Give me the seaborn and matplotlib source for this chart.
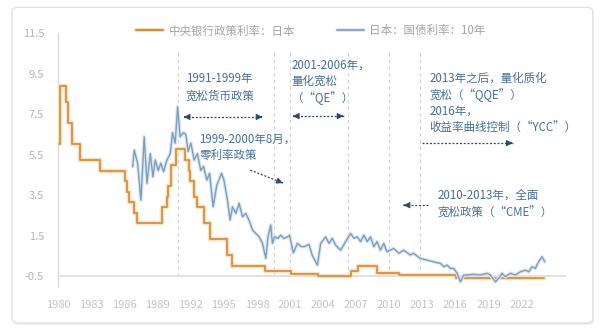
import numpy as np
import pandas as pd
import matplotlib
matplotlib.use("Agg")
import matplotlib.pyplot as plt
import matplotlib.patheffects as pe
from matplotlib.patches import FancyBboxPatch
from matplotlib.lines import Line2D
import seaborn as sns

# ---------------- data ----------------
policy_dates = [1980.0, 1980.15, 1980.65, 1980.9, 1981.25, 1981.95, 1983.8,
                1986.05, 1986.25, 1986.35, 1986.85, 1987.15,
                1989.4, 1989.8, 1989.95, 1990.2, 1990.65,
                1991.5, 1991.85, 1991.95, 1992.3, 1992.55, 1993.15, 1993.7,
                1995.3, 1995.7, 1998.75, 2001.1, 2003.5,
                2006.55, 2007.15, 2008.85, 2010.85, 2016.1, 2024.0]
policy_rates = [6.25, 9.0, 8.25, 7.25, 6.25, 5.5, 5.0,
                4.5, 4.0, 3.5, 3.0, 2.5,
                3.25, 3.75, 4.25, 5.25, 6.0,
                5.5, 5.0, 4.5, 3.75, 3.25, 2.5, 1.75,
                1.0, 0.5, 0.25, 0.12, 0.02,
                0.25, 0.5, 0.15, 0.05, -0.1, -0.1]

jgb_dates = [1986.72, 1986.87, 1987.17, 1987.47, 1987.77, 1988.02, 1988.32, 1988.56,
             1988.77, 1989.04, 1989.28, 1989.53, 1989.83, 1990.13, 1990.34, 1990.58,
             1990.80, 1991.03, 1991.34, 1991.55, 1991.75, 1992.0, 1992.3, 1992.6,
             1992.9, 1993.15, 1993.45, 1993.7, 1994.02, 1994.35, 1994.78, 1995.0,
             1995.32, 1995.56, 1995.78, 1996.08, 1996.38, 1996.68, 1996.98, 1997.28,
             1997.6, 1997.9, 1998.19, 1998.5, 1998.8, 1999.0, 1999.25, 1999.4,
             1999.6, 1999.9, 2000.15, 2000.45, 2000.76, 2000.95, 2001.3, 2001.67,
             2002.0, 2002.27, 2002.72, 2003.0, 2003.48, 2003.78, 2004.23, 2004.53,
             2004.83, 2005.13, 2005.59, 2006.04, 2006.49, 2006.8, 2007.1, 2007.4,
             2007.7, 2008.0, 2008.3, 2008.6, 2008.9, 2009.2, 2009.5, 2009.8,
             2010.4, 2010.87, 2011.3, 2011.9, 2012.2, 2012.8, 2013.4, 2014.0,
             2014.65, 2014.95, 2015.25, 2015.55, 2015.85, 2016.16, 2016.46, 2016.76,
             2017.06, 2017.66, 2018.27, 2018.88, 2019.18, 2019.63, 2019.93, 2020.23,
             2020.53, 2020.99, 2021.44, 2021.89, 2022.35, 2022.65, 2022.95, 2023.25,
             2023.55, 2023.86, 2024.1]
jgb_yields = [5.18, 5.97, 5.35, 3.6, 6.6, 4.4, 5.8, 4.7,
              5.5, 5.0, 5.35, 4.95, 5.5, 5.8, 6.8, 6.3,
              8.02, 6.6, 6.8, 6.7, 5.9, 6.3, 5.5, 5.8,
              5.0, 5.2, 4.55, 4.87, 3.28, 4.3, 4.87, 4.55,
              3.6, 2.65, 3.28, 2.97, 3.45, 2.81, 2.97, 2.65,
              2.18, 2.02, 1.86, 1.55, 0.84, 1.86, 2.42, 1.55,
              1.86, 1.78, 1.94, 1.78, 1.86, 1.94, 1.1, 1.55,
              1.4, 1.39, 1.5, 1.0, 0.52, 1.55, 1.86, 1.55,
              1.79, 1.47, 1.23, 1.63, 2.02, 1.79, 1.86, 1.63,
              1.94, 1.63, 1.86, 1.39, 1.63, 1.23, 1.55, 1.15,
              1.31, 1.08, 1.23, 1.0, 1.08, 0.84, 0.76, 0.68,
              0.6, 0.44, 0.52, 0.36, 0.36, 0.13, -0.27, 0.05,
              0.05, 0.08, 0.05, 0.13, 0.05, -0.27, -0.11, 0.13,
              -0.03, 0.13, 0.05, 0.2, 0.28, 0.2, 0.44, 0.36,
              0.68, 0.92, 0.68]

x_ticks = list(range(1980, 2023, 3))
y_tick_labels = ["-0.5", "1.5", "3.5", "5.5", "7.5", "9.5", "11.5"]

series_names = ["中央银行政策利率：日本", "日本：国债利率：10年"]
policy_marks = [1990.8, 1999.5, 2001.0, 2006.3, 2010.0, 2012.75]

# ---------------- style ----------------
sns.set_theme(style="white")
plt.rcParams["font.family"] = ["Noto Sans CJK SC", "DejaVu Sans"]

ORANGE = "#d08a3c"
ORANGE_HALO = "#fbe0bd"
BLUE = "#7a9fc0"
BLUE_HALO = "#dbe6f0"
TXT = "#45709a"
ARR = "#2b4a6b"

fig = plt.figure(figsize=(6.0, 3.33), dpi=100)

# outer card (behind the axes)
shadow = FancyBboxPatch((0.022, 0.024), 0.968, 0.948,
                        boxstyle="round,pad=0,rounding_size=0.012",
                        transform=fig.transFigure, facecolor="#eeeeee",
                        edgecolor="none", zorder=-10)
card = FancyBboxPatch((0.02, 0.03), 0.968, 0.948,
                      boxstyle="round,pad=0,rounding_size=0.012",
                      transform=fig.transFigure, facecolor="white",
                      edgecolor="#e2e2e2", lw=1.0, zorder=-9)
fig.patches.extend([shadow, card])

ax = fig.add_axes([0.0967, 0.138, 0.846, 0.763])
ax.set_zorder(1)
ax.patch.set_alpha(0)

pol = pd.DataFrame({"date": policy_dates, "rate": policy_rates})
jgb = pd.DataFrame({"date": jgb_dates, "rate": jgb_yields})

sns.lineplot(data=pol, x="date", y="rate", ax=ax, color=ORANGE, lw=1.2,
             drawstyle="steps-post", estimator=None,
             path_effects=[pe.Stroke(linewidth=3.2, foreground=ORANGE_HALO), pe.Normal()],
             zorder=3)
sns.lineplot(data=jgb, x="date", y="rate", ax=ax, color=BLUE, lw=1.0,
             estimator=None,
             path_effects=[pe.Stroke(linewidth=2.6, foreground=BLUE_HALO), pe.Normal()],
             zorder=4)

ax.set_xlim(1979.95, 2026.0)
ax.set_ylim(-0.52, 11.52)
ax.set_xticks(x_ticks)
ax.set_xticklabels([str(v) for v in x_ticks])
ax.set_yticks(np.linspace(0, 11.5, len(y_tick_labels)))
ax.set_yticklabels(y_tick_labels)
ax.tick_params(axis="x", length=0, pad=9, labelsize=8, labelcolor="#c4c4c4")
ax.tick_params(axis="y", length=0, pad=10, labelsize=8, labelcolor="#b4b4b4")
ax.set_xlabel("")
ax.set_ylabel("")
for s in ["top", "right", "bottom"]:
    ax.spines[s].set_visible(False)
ax.spines["left"].set_color("#dadada")
ax.spines["left"].set_linewidth(1.0)
ax.axhline(0, color="#dcdcdc", lw=1.2, zorder=2)

for xm in policy_marks:
    ax.plot([xm, xm], [0, 10.6], color="#d2d2d2", lw=0.8, ls=(0, (3, 3)), zorder=1)

# annotations
def arrow(x0, y0, x1, y1, both=False):
    ax.plot([x0, x1], [y0, y1], color=ARR, lw=0.9, ls=(0, (1.6, 1.4)), zorder=5)
    dx, dy = (x1 - x0), (y1 - y0)
    ax.annotate("", xy=(x1, y1), xytext=(x1 - dx * 0.02, y1 - dy * 0.02),
                arrowprops=dict(arrowstyle="-|>", color=ARR, lw=0.8, mutation_scale=9,
                                shrinkA=0, shrinkB=0), zorder=6)
    if both:
        ax.annotate("", xy=(x0, y0), xytext=(x0 + dx * 0.02, y0 + dy * 0.02),
                    arrowprops=dict(arrowstyle="-|>", color=ARR, lw=0.8, mutation_scale=9,
                                    shrinkA=0, shrinkB=0), zorder=6)

fs = 8.3
ax.text(1991.55, 8.95, "1991-1999年\n宽松货币政策", fontsize=fs, color=TXT,
        va="center", ha="left", linespacing=1.45)
arrow(1991.35, 7.54, 1998.5, 7.54, both=True)
ax.text(1992.75, 6.09, "1999-2000年8月，\n零利率政策", fontsize=fs, color=TXT,
        va="center", ha="left", linespacing=1.3)
arrow(1997.4, 5.02, 2000.35, 4.41)
ax.text(2001.15, 9.19, "2001-2006年，\n量化宽松\n（“QE”）", fontsize=fs, color=TXT,
        va="center", ha="left", linespacing=1.3)
arrow(2001.25, 7.58, 2005.85, 7.58, both=True)
ax.text(2013.65, 8.2, "2013年之后，量化质化\n宽松（“QQE”）\n2016年，\n收益率曲线控制（“YCC”）",
        fontsize=fs, color=TXT, va="center", ha="left", linespacing=1.32)
arrow(2013.0, 6.3, 2021.2, 6.3)
ax.text(2014.37, 3.41, "2010-2013年，全面\n宽松政策（“CME”）", fontsize=fs, color=TXT,
        va="center", ha="left", linespacing=1.5)
arrow(2013.55, 3.36, 2011.3, 3.36)

handles = [Line2D([], [], color=ORANGE, lw=1.4,
                  path_effects=[pe.Stroke(linewidth=3.0, foreground=ORANGE_HALO), pe.Normal()]),
           Line2D([], [], color=BLUE, lw=1.2,
                  path_effects=[pe.Stroke(linewidth=2.6, foreground=BLUE_HALO), pe.Normal()])]
leg = fig.legend(handles, series_names, loc="center", bbox_to_anchor=(0.518, 0.907),
                 ncol=2, frameon=False, fontsize=8.3, handlelength=2.35,
                 handletextpad=0.45, columnspacing=3.6)
for t in leg.get_texts():
    t.set_color("#a4a4a4")

fig.savefig("out.png", dpi=100)
